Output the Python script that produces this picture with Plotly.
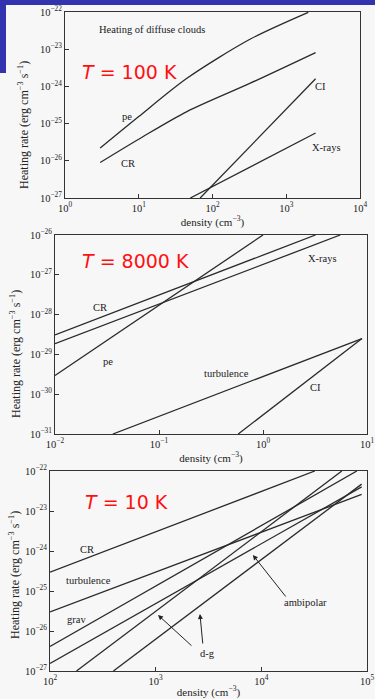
import plotly.graph_objects as go
import math

# ---------------- data ----------------
# Panel 1: diffuse clouds, T = 100 K
p1_pe_n = [3, 10, 45, 322, 1990]
p1_pe_rate = [2.2e-26, 1.55e-25, 1.65e-24, 1.85e-23, 9.8e-23]
p1_cr_n = [3, 11.5, 45, 320, 2500]
p1_cr_rate = [9e-27, 4.5e-26, 2.1e-25, 1.2e-24, 8.1e-24]
p1_ci_n = [68, 2500]
p1_ci_rate = [1e-27, 1.6e-24]
p1_xr_n = [50, 2500]
p1_xr_rate = [1e-27, 5.6e-26]

# Panel 2: T = 8000 K
p2_cr_n = [0.01, 3.2]
p2_cr_rate = [3.1e-29, 1e-26]
p2_xr_n = [0.01, 5.53]
p2_xr_rate = [1.86e-29, 1e-26]
p2_pe_n = [0.01, 1.0]
p2_pe_rate = [2.95e-30, 1e-26]
p2_turb_n = [0.036, 8.95]
p2_turb_rate = [1e-31, 2.5e-29]
p2_ci_n = [0.578, 8.95]
p2_ci_rate = [1e-31, 2.5e-29]

# Panel 3: T = 10 K
p3_cr_n = [100, 32100]
p3_cr_rate = [2.95e-25, 1e-22]
p3_turb_n = [100, 89000]
p3_turb_rate = [3.0e-26, 2.6e-23]
p3_grav_n = [100, 80200]
p3_grav_rate = [4.1e-27, 1e-22]
p3_amb_n = [100, 89000]
p3_amb_rate = [1.55e-27, 4.0e-23]
p3_dg1_n = [178, 57800]
p3_dg1_rate = [1e-27, 1e-22]
p3_dg2_n = [398, 89000]
p3_dg2_rate = [1e-27, 4.7e-23]

p1_xticks = [1e0, 1e1, 1e2, 1e3, 1e4]
p1_yticks = [1e-27, 1e-26, 1e-25, 1e-24, 1e-23, 1e-22]
p2_xticks = [1e-2, 1e-1, 1e0, 1e1]
p2_yticks = [1e-31, 1e-30, 1e-29, 1e-28, 1e-27, 1e-26]
p3_xticks = [1e2, 1e3, 1e4, 1e5]
p3_yticks = [1e-27, 1e-26, 1e-25, 1e-24, 1e-23, 1e-22]

# ---------------- figure ----------------
W, H = 375, 699
LINE = dict(color="#2a2a2a", width=1.3)
SERIF = "Liberation Serif, Times New Roman, serif"
PAPER = "#f7f7f7"
YTITLE = "Heating rate (erg cm<sup>\u22123</sup> s<sup>\u22121</sup>)"
XTITLE = "density (cm<sup>\u22123</sup>)"


def lbl(v):
    e = int(round(math.log10(v)))
    return "10<sup>%s</sup>" % (str(e).replace("-", "\u2212"))


fig = go.Figure()

series = [
    (p1_pe_n, p1_pe_rate, "x", "y", "pe", "spline"),
    (p1_cr_n, p1_cr_rate, "x", "y", "CR", "spline"),
    (p1_ci_n, p1_ci_rate, "x", "y", "CI", "linear"),
    (p1_xr_n, p1_xr_rate, "x", "y", "X-rays", "linear"),
    (p2_cr_n, p2_cr_rate, "x2", "y2", "CR", "linear"),
    (p2_xr_n, p2_xr_rate, "x2", "y2", "X-rays", "linear"),
    (p2_pe_n, p2_pe_rate, "x2", "y2", "pe", "linear"),
    (p2_turb_n, p2_turb_rate, "x2", "y2", "turbulence", "linear"),
    (p2_ci_n, p2_ci_rate, "x2", "y2", "CI", "linear"),
    (p3_cr_n, p3_cr_rate, "x3", "y3", "CR", "linear"),
    (p3_turb_n, p3_turb_rate, "x3", "y3", "turbulence", "linear"),
    (p3_grav_n, p3_grav_rate, "x3", "y3", "grav", "linear"),
    (p3_amb_n, p3_amb_rate, "x3", "y3", "ambipolar", "linear"),
    (p3_dg1_n, p3_dg1_rate, "x3", "y3", "d-g", "linear"),
    (p3_dg2_n, p3_dg2_rate, "x3", "y3", "d-g", "linear"),
]
for xs, ys, xa, ya, name, shape in series:
    fig.add_trace(go.Scatter(x=xs, y=ys, xaxis=xa, yaxis=ya, mode="lines",
                             line=dict(LINE, shape=shape, smoothing=0.8),
                             name=name, showlegend=False, hoverinfo="skip"))


def px2fx(px):
    return px / W


def py2fy(py):
    return 1 - py / H


def xaxis(dom, rng, ticks, anchor, standoff):
    return dict(type="log", domain=dom, range=rng, anchor=anchor,
                tickvals=ticks, ticktext=[lbl(t) for t in ticks],
                ticks="inside", ticklen=4, tickcolor="#333",
                showline=True, linecolor="#333", linewidth=1, mirror=True,
                showgrid=False, zeroline=False,
                tickfont=dict(family=SERIF, size=10.5, color="#222"),
                title=dict(text=XTITLE, standoff=standoff,
                           font=dict(family=SERIF, size=11, color="#222")),
                automargin=False, fixedrange=True)


def yaxis(dom, rng, ticks, anchor):
    return dict(type="log", domain=dom, range=rng, anchor=anchor,
                tickvals=ticks, ticktext=[lbl(t) for t in ticks],
                ticks="inside", ticklen=4, tickcolor="#333",
                showline=True, linecolor="#333", linewidth=1, mirror=True,
                showgrid=False, zeroline=False,
                tickfont=dict(family=SERIF, size=10.5, color="#222"),
                automargin=False, fixedrange=True)


fig.update_layout(
    width=W, height=H, margin=dict(l=0, r=0, t=0, b=0),
    paper_bgcolor=PAPER, plot_bgcolor=PAPER,
    xaxis=xaxis([px2fx(65), px2fx(360)], [0, 4], p1_xticks, "y", 5),
    yaxis=yaxis([py2fy(198), py2fy(12)], [-27, -22], p1_yticks, "x"),
    xaxis2=xaxis([px2fx(55), px2fx(367)], [-2, 1], p2_xticks, "y2", 5),
    yaxis2=yaxis([py2fy(434), py2fy(235)], [-31, -26], p2_yticks, "x2"),
    xaxis3=xaxis([px2fx(50), px2fx(367)], [2, 5], p3_xticks, "y3", 4),
    yaxis3=yaxis([py2fy(671), py2fy(471)], [-27, -22], p3_yticks, "x3"),
)

ann = []


def txt(x, y, s, xr, yr, size=10.5, xanchor="center"):
    ann.append(dict(x=x, y=y, xref=xr, yref=yr, text=s, showarrow=False,
                    xanchor=xanchor, yanchor="middle",
                    font=dict(family=SERIF, size=size, color="#1a1a1a")))


def red(x, y, s, xr, yr):
    ann.append(dict(x=x, y=y, xref=xr, yref=yr, text=s, showarrow=False,
                    xanchor="center", yanchor="middle",
                    font=dict(family="DejaVu Sans, sans-serif", size=19, color="#ff1010")))


# y-axis titles (rotated), placed in paper coordinates
for cx, cy in [(23, 125), (15, 354), (14, 575)]:
    ann.append(dict(x=px2fx(cx), y=py2fy(cy), xref="paper", yref="paper",
                    text=YTITLE, textangle=-90, showarrow=False,
                    xanchor="center", yanchor="middle",
                    font=dict(family=SERIF, size=12, color="#222")))

# panel 1 labels (log10 data units)
txt(0.434, -22.48, "Heating of diffuse clouds", "x", "y", xanchor="left")
txt(0.84, -24.8, "pe", "x", "y")
txt(0.854, -26.06, "CR", "x", "y")
txt(3.46, -23.99, "CI", "x", "y")
txt(3.55, -25.63, "X-rays", "x", "y")
red(0.88, -23.61, "<i>T</i> = 100 K", "x", "y")

# panel 2 labels
txt(0.571, -26.58, "X-rays", "x2", "y2")
txt(-1.571, -27.81, "CR", "x2", "y2")
txt(-1.495, -29.19, "pe", "x2", "y2")
txt(-0.352, -29.47, "turbulence", "x2", "y2")
txt(0.505, -29.84, "CI", "x2", "y2")
red(-1.229, -26.65, "<i>T</i> = 8000 K", "x2", "y2")

# panel 3 labels
txt(2.35, -23.95, "CR", "x3", "y3")
txt(2.36, -24.73, "turbulence", "x3", "y3")
txt(2.255, -25.7, "grav", "x3", "y3")
txt(4.42, -25.28, "ambipolar", "x3", "y3")
txt(3.495, -26.55, "d-g", "x3", "y3")
red(2.72, -22.78, "<i>T</i> = 10 K", "x3", "y3")

# arrows (tip, tail) in log10 data units
arrows = [((3.92, -24.1), (4.242, -25.175)),
          ((3.022, -25.6), (3.353, -26.4)),
          ((3.419, -25.575), (3.447, -26.35))]
for (tx, ty), (ax, ay) in arrows:
    ann.append(dict(x=tx, y=ty, ax=ax, ay=ay, xref="x3", yref="y3",
                    axref="x3", ayref="y3", text="", showarrow=True,
                    arrowhead=2, arrowsize=1, arrowwidth=1, arrowcolor="#222"))

fig.update_layout(annotations=ann)

# slide background edges (blue)
fig.add_shape(type="rect", xref="paper", yref="paper", x0=0, x1=1,
              y0=py2fy(5), y1=1, fillcolor="#3333b0", line_width=0, layer="above")
fig.add_shape(type="rect", xref="paper", yref="paper", x0=0, x1=px2fx(6),
              y0=py2fy(73), y1=1, fillcolor="#3333b0", line_width=0, layer="above")

fig.write_html("out.html")
